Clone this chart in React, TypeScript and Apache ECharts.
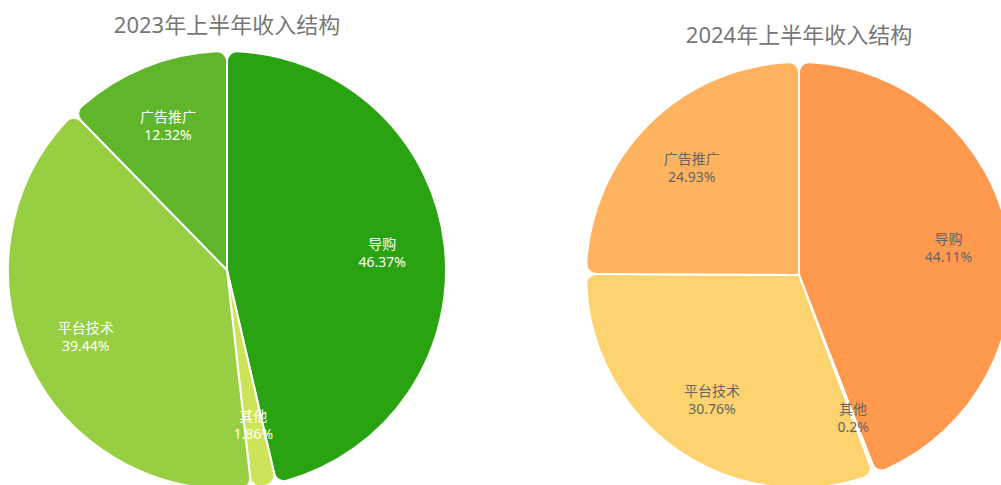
import React, { useEffect, useRef } from "react";
import * as echarts from "echarts";

const categories = ["导购", "其他", "平台技术", "广告推广"];
const values2023 = [46.37, 1.86, 39.44, 12.32];
const values2024 = [44.11, 0.2, 30.76, 24.93];
const titles = ["2023年上半年收入结构", "2024年上半年收入结构"];

const colors2023 = ["#2aa312", "#cde35a", "#98cf42", "#60b62a"];
const colors2024 = ["#ff994d", "#fff0a0", "#fdd36f", "#feb35e"];

const FONT = "'Noto Sans', 'Noto Sans CJK SC', sans-serif";

function buildData(values: number[], colors: string[]) {
  return categories.map((name, i) => ({
    name,
    value: values[i],
    itemStyle: { color: colors[i] },
  }));
}

function pieSeries(
  values: number[],
  colors: string[],
  center: [number, number],
  r: number,
  labelColor: string
) {
  const base = {
    type: "pie" as const,
    center,
    startAngle: 90,
    clockwise: true,
    avoidLabelOverlap: false,
    emphasis: { disabled: true },
  };
  return [
    {
      ...base,
      radius: [0, r],
      data: buildData(values, colors),
      itemStyle: { borderColor: "#fff", borderWidth: 2, borderRadius: 10 },
      label: { show: false },
      labelLine: { show: false },
    },
    {
      ...base,
      silent: true,
      radius: [r * 0.4, r],
      data: categories.map((name, i) => ({ name, value: values[i] })),
      itemStyle: { color: "rgba(0,0,0,0)", borderWidth: 0 },
      label: {
        show: true,
        position: "inside",
        formatter: "{b}\n{c}%",
        color: labelColor,
        fontSize: 14,
        lineHeight: 18,
        fontFamily: FONT,
      },
      labelLine: { show: false },
    },
  ];
}

export default function App() {
  const ref = useRef<HTMLDivElement>(null);
  useEffect(() => {
    if (!ref.current) return;
    const chart = echarts.init(ref.current, undefined, { renderer: "svg" });
    chart.setOption({
      animation: false,
      backgroundColor: "#fff",
      graphic: [
        {
          type: "text",
          x: 227,
          y: 24,
          style: {
            text: titles[0],
            textAlign: "center",
            textVerticalAlign: "middle",
            fontSize: 22,
            fill: "#777",
            fontFamily: FONT,
          },
        },
        {
          type: "text",
          x: 799,
          y: 34,
          style: {
            text: titles[1],
            textAlign: "center",
            textVerticalAlign: "middle",
            fontSize: 22,
            fill: "#777",
            fontFamily: FONT,
          },
        },
      ],
      series: [
        ...pieSeries(values2023, colors2023, [227, 270], 219, "#ffffff"),
        ...pieSeries(values2024, colors2024, [799, 275], 213, "#666666"),
      ],
    });
    return () => chart.dispose();
  }, []);
  return (
    <div
      ref={ref}
      style={{ position: "fixed", left: 0, top: 0, width: 1001, height: 485 }}
    />
  );
}
